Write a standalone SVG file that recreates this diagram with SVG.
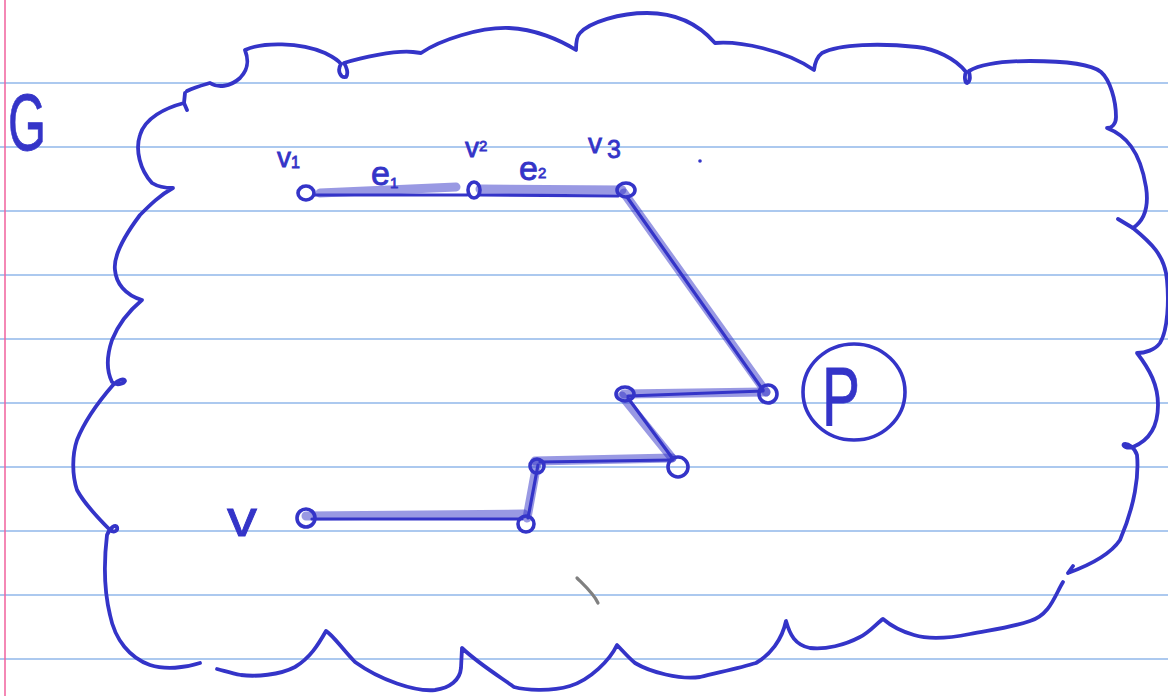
<svg xmlns="http://www.w3.org/2000/svg" width="1168" height="696" viewBox="0 0 1168 696">
<style>
.rule{stroke:#5b93e0;stroke-width:1.2}
.ink{fill:none;stroke:#3434c8;stroke-width:3.8;stroke-linecap:round;stroke-linejoin:round}
.edge{fill:none;stroke:#3434c8;stroke-width:3.2;stroke-linecap:round}
.band{fill:none;stroke:#3434c8;stroke-opacity:0.5;stroke-width:9;stroke-linecap:round}
.node{fill:none;stroke:#3434c8;stroke-width:3.6}
.lbl{fill:#3434c8;stroke:#3434c8;stroke-width:0.8;font-family:"Liberation Sans",Arial,sans-serif}
</style>
<rect width="1168" height="696" fill="#ffffff"/>
<g id="paper">
<line class="rule" x1="0" y1="83" x2="1168" y2="83"/>
<line class="rule" x1="0" y1="147" x2="1168" y2="147"/>
<line class="rule" x1="0" y1="211" x2="1168" y2="211"/>
<line class="rule" x1="0" y1="275" x2="1168" y2="275"/>
<line class="rule" x1="0" y1="339" x2="1168" y2="339"/>
<line class="rule" x1="0" y1="403" x2="1168" y2="403"/>
<line class="rule" x1="0" y1="467" x2="1168" y2="467"/>
<line class="rule" x1="0" y1="531" x2="1168" y2="531"/>
<line class="rule" x1="0" y1="595" x2="1168" y2="595"/>
<line class="rule" x1="0" y1="659" x2="1168" y2="659"/>
<line x1="5" y1="0" x2="5" y2="696" stroke="#f0609c" stroke-width="1.5"/>
</g>
<g id="graph-G">
<path class="ink" d="M187,91 C195,87 203,85 210,83 C218,88 230,87 240,78 C250,68 248,58 245,50 C262,42 300,42 325,53 C333,57 339,61 341,64 C337,70 340,78 346,77 C349,73 346,66 344,63 C360,58 395,50 413,52 L421,53 C440,40 480,27 509,28 C535,29 560,40 576,50 C576,42 577,36 580,33 C590,22 620,13 647,13 C670,13 695,20 715,43 C740,41 785,50 814,70 C815,62 818,56 822,53 C840,44 880,43 917,47 C935,49 955,58 966,72 C964,76 965,83 967,83 C971,81 970,76 969,71 C985,62 1010,61 1030,61 C1060,61 1090,63 1101,72 C1110,80 1116,100 1116,117 C1116,124 1112,128 1107,128 C1125,135 1140,150 1146,187 C1148,200 1148,218 1133,228"/>
<path class="ink" d="M1118,219 L1133,228 C1150,242 1165,255 1167,280 C1169,300 1168,330 1160,343 C1155,350 1145,353 1137,353 C1150,370 1158,385 1158,405 C1158,425 1150,440 1133,447 C1127,449 1122,446 1124,444 C1128,443 1135,448 1137,455 C1139,475 1135,505 1120,540 C1110,555 1090,565 1068,573 M1073,566 L1068,573"/>
<path class="ink" d="M1063,582 C1055,595 1050,615 1030,621 C1010,628 990,630 970,634 C950,638 930,640 914,635 C900,631 890,625 883,619 C878,622 870,632 860,637 C845,645 825,650 810,648 C795,645 790,635 786,621 C782,640 770,655 756,663 C740,668 720,672 700,677 C680,680 650,672 635,663 C628,657 622,650 617,645 C610,660 590,680 570,686 C550,692 525,690 514,687 C505,680 480,665 462,648 L461,668 C460,680 450,688 435,690 C415,692 380,680 355,662 C343,650 333,635 326,631 C318,645 310,658 295,667 C280,675 255,677 241,675 C230,673 222,670 217,669"/>
<path class="ink" d="M185,93 L184,103 L187,110 M184,103 C165,108 145,118 140,135 C135,150 140,170 152,183 C160,188 168,188 173,188 C160,195 150,205 140,215 C125,235 113,255 115,270 C116,283 125,295 142,300 C130,310 118,325 112,340 C107,355 106,370 112,382 C116,386 124,384 125,381 C124,378 117,380 113,385 C100,400 85,420 77,440 C72,455 72,475 77,490 C85,505 100,520 110,530 C114,533 118,531 117,527 C116,524 110,527 107,535 C104,560 104,590 110,615 C115,640 130,658 150,665 C165,670 185,668 200,663"/>
<text class="lbl" x="8" y="150" font-size="80" textLength="38" lengthAdjust="spacingAndGlyphs">G</text>
<circle cx="700" cy="161" r="1.8" fill="#3434c8"/>
<path d="M577,578 C585,586 594,594 598,603" fill="none" stroke="#808080" stroke-width="3.2" stroke-linecap="round"/>
</g>
<g id="connectors">
<path class="band" d="M320,193 L456,187"/>
<path class="band" d="M480,189 L622,190"/>
<path class="band" d="M624,193 L766,392"/>
<path class="band" d="M766,392 L624,394"/>
<path class="band" d="M622,396 L672,458"/>
<path class="band" d="M672,458 L535,461"/>
<path class="band" d="M537,463 L527,518"/>
<path class="band" d="M524,514 L306,516"/>
<path class="edge" d="M314,195 L467,195"/>
<path class="edge" d="M480,195 L618,196"/>
<path class="edge" d="M627,197 L763,390"/>
<path class="edge" d="M763,391 L628,396"/>
<path class="edge" d="M628,398 L673,459"/>
<path class="edge" d="M672,460 L540,462"/>
<path class="edge" d="M538,465 L528,518"/>
<path class="edge" d="M522,519 L312,519"/>
<text class="lbl" x="371" y="185" font-size="34">e<tspan font-size="15" dy="3">1</tspan></text>
<text class="lbl" x="519" y="180" font-size="34">e<tspan font-size="15" dy="-2">2</tspan></text>
</g>
<g id="node-v1">
<ellipse class="node" cx="306" cy="193" rx="8" ry="7"/>
<text class="lbl" x="277" y="167" font-size="28">v<tspan font-size="16" dy="1">1</tspan></text>
</g>
<g id="node-v2">
<ellipse class="node" cx="474" cy="190" rx="6" ry="8"/>
<text class="lbl" x="465" y="157" font-size="28">v<tspan font-size="15" dy="-6">2</tspan></text>
</g>
<g id="node-v3">
<ellipse class="node" cx="626" cy="190" rx="9" ry="7"/>
<text class="lbl" x="588" y="153" font-size="28">v<tspan font-size="25" dx="5" dy="5">3</tspan></text>
</g>
<g id="node-a">
<circle class="node" cx="768" cy="394" r="9"/>
</g>
<g id="node-b">
<ellipse class="node" cx="625" cy="394" rx="9" ry="7"/>
</g>
<g id="node-c">
<circle class="node" cx="678" cy="467" r="10"/>
</g>
<g id="node-d">
<circle class="node" cx="537" cy="466" r="7"/>
</g>
<g id="node-e">
<circle class="node" cx="526" cy="524" r="8"/>
</g>
<g id="node-v">
<circle class="node" cx="306" cy="518" r="9"/>
<text class="lbl" x="227" y="536" font-size="50" textLength="30" lengthAdjust="spacingAndGlyphs">v</text>
</g>
<g id="node-P">
<ellipse class="node" cx="854" cy="392" rx="51" ry="48"/>
<text class="lbl" x="822" y="425" font-size="84" textLength="38" lengthAdjust="spacingAndGlyphs">P</text>
</g>
</svg>
